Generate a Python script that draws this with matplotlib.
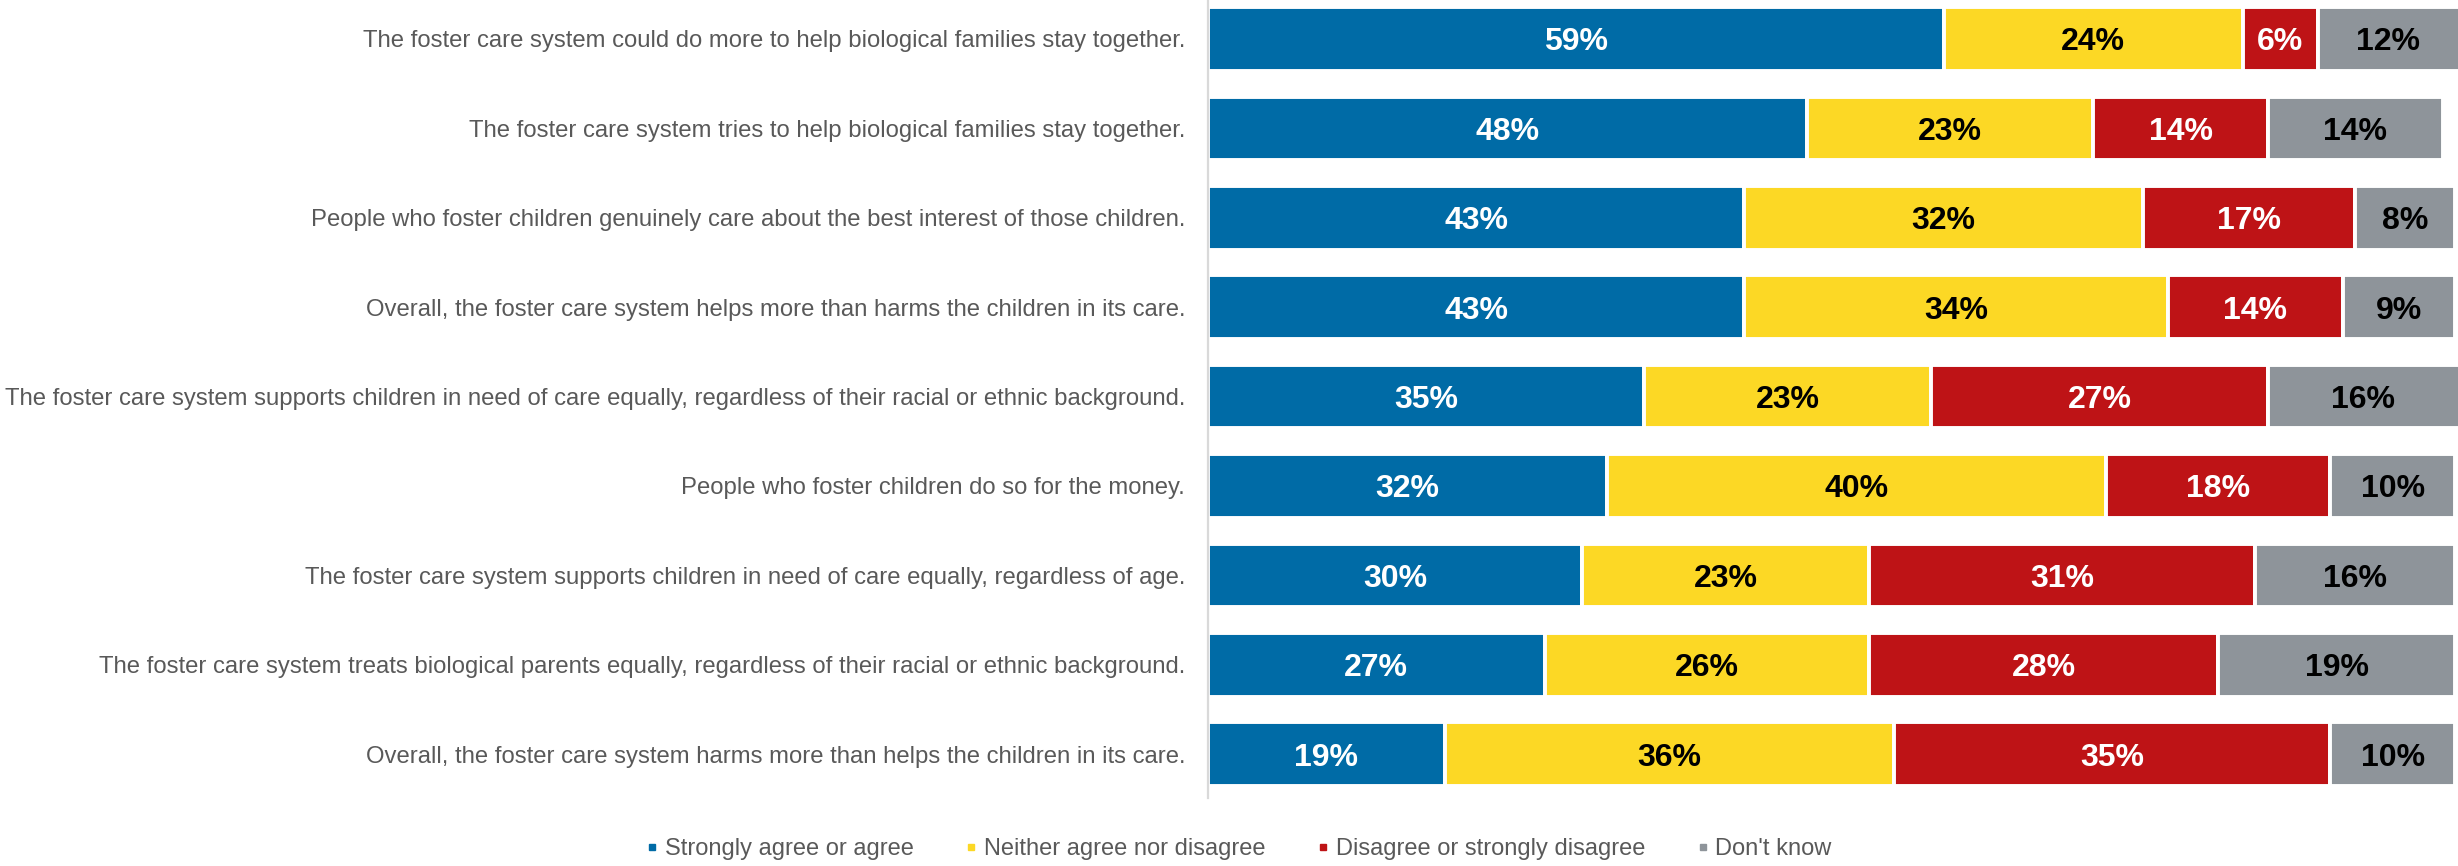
import matplotlib
matplotlib.use("Agg")
import matplotlib.pyplot as plt
from matplotlib.lines import Line2D
import numpy as np

plt.rcParams['font.family'] = ['Liberation Sans', 'DejaVu Sans']

statements = [
    "The foster care system could do more to help biological families stay together.",
    "The foster care system tries to help biological families stay together.",
    "People who foster children genuinely care about the best interest of those children.",
    "Overall, the foster care system helps more than harms the children in its care.",
    "The foster care system supports children in need of care equally, regardless of their racial or ethnic background.",
    "People who foster children do so for the money.",
    "The foster care system supports children in need of care equally, regardless of age.",
    "The foster care system treats biological parents equally, regardless of their racial or ethnic background.",
    "Overall, the foster care system harms more than helps the children in its care.",
]

agree = [59, 48, 43, 43, 35, 32, 30, 27, 19]
neither = [24, 23, 32, 34, 23, 40, 23, 26, 36]
disagree = [6, 14, 17, 14, 27, 18, 31, 28, 35]
dont_know = [12, 14, 8, 9, 16, 10, 16, 19, 10]

series_names = ["Strongly agree or agree", "Neither agree nor disagree",
                "Disagree or strongly disagree", "Don't know"]
series_values = [agree, neither, disagree, dont_know]
series_colors = ["#006BA6", "#FCD825", "#BE1316", "#8E949A"]
label_colors = ["white", "black", "white", "black"]

W, H = 2458, 866
fig = plt.figure(figsize=(W / 100, H / 100), dpi=100)
ax = fig.add_axes([1208 / W, (H - 798) / H, (W - 1208) / W, 798 / H])

y = np.arange(len(statements))
left = np.zeros(len(statements))
for vals, name, col, tcol in zip(series_values, series_names, series_colors, label_colors):
    vals = np.array(vals, dtype=float)
    bars = ax.barh(y, vals, left=left, height=0.71, color=col,
                   edgecolor="white", linewidth=2.8, label=name)
    texts = ax.bar_label(bars, labels=[f"{int(v)}%" for v in vals], label_type="center",
                         color=tcol, fontsize=23, fontweight="bold")
    for t in texts:
        t.set_verticalalignment("center_baseline")
    left += vals

ax.set_xlim(0, 100.0 * (W - 1208) / 1247)
ax.set_ylim(len(statements) - 1 + 0.49, -0.436)
ax.set_yticks(y)
ax.set_yticklabels(statements, fontsize=17.2, color="#595959")
ax.tick_params(axis="y", length=0, pad=16.5)
ax.set_xticks([])
for side in ["top", "right", "bottom"]:
    ax.spines[side].set_visible(False)
ax.spines["left"].set_color("#D9D9D9")
ax.spines["left"].set_linewidth(1.6)

handles = [Line2D([], [], marker="s", linestyle="none", markersize=4.8,
                  markerfacecolor=c, markeredgecolor=c) for c in series_colors]
fig.legend(handles, series_names, loc="center", bbox_to_anchor=(0.5045, 1 - 849 / H),
           ncol=4, frameon=False, fontsize=17, labelcolor="#595959",
           handlelength=0.3, handletextpad=0.38, columnspacing=2.3)

fig.savefig("out.png", dpi=100)
